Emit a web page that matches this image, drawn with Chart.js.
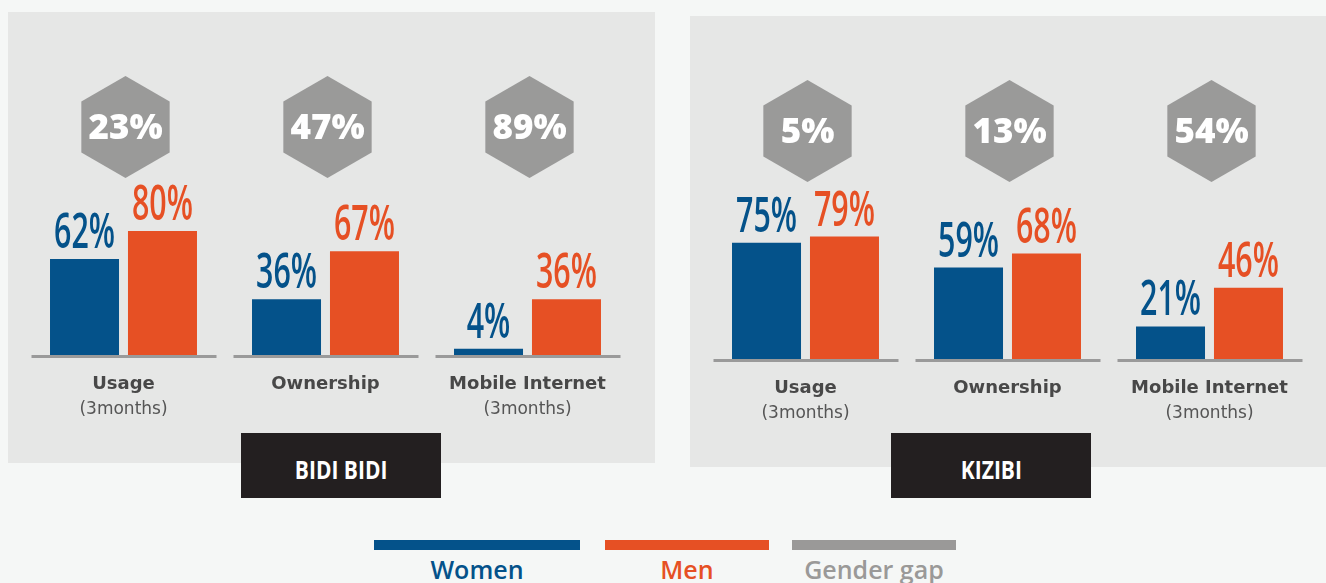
<!DOCTYPE html>
<html>
<head>
<meta charset="utf-8">
<script src="https://cdn.jsdelivr.net/npm/chart.js@4.4.1/dist/chart.umd.min.js"></script>
<style>
  html, body { margin: 0; padding: 0; }
  body { width: 1326px; height: 583px; background: #f5f7f6; position: relative; overflow: hidden; font-family: "Open Sans", sans-serif; }
  .panel { position: absolute; background: #e6e7e6; }
  .panel canvas { position: absolute; left: 0; top: 0; }
  .place { position: absolute; width: 200px; height: 65px; background: #231f20; color: #fff;
           display: flex; align-items: center; justify-content: center; box-sizing: border-box; padding-top: 6px;
           font: 700 25px "Open Sans", sans-serif; }
  .place span { display: inline-block; transform: scaleX(0.84); }
  .key { position: absolute; top: 540px; height: 10px; }
  .key-label { position: absolute; top: 553px; height: 33px; text-align: center; font: 600 25px "Open Sans", sans-serif; line-height: 33px; }
</style>
</head>
<body>
<div class="panel" style="left:8px; top:12px; width:647px; height:451px;"><canvas id="bidi" width="647" height="451"></canvas></div>
<div class="panel" style="left:690px; top:16px; width:636px; height:451px;"><canvas id="kizibi" width="636" height="451"></canvas></div>

<div class="place" style="left:241px; top:433px;"><span>BIDI BIDI</span></div>
<div class="place" style="left:891px; top:433px;"><span>KIZIBI</span></div>

<div class="key" style="left:374px; width:206px; background:#04528a;"></div>
<div class="key" style="left:605px; width:164px; background:#e65024;"></div>
<div class="key" style="left:792px; width:164px; background:#9a9998;"></div>
<div class="key-label" style="left:374px; width:206px; color:#04528a;">Women</div>
<div class="key-label" style="left:605px; width:164px; color:#e65024;">Men</div>
<div class="key-label" style="left:772px; width:204px; color:#9a9998;">Gender gap</div>

<script>
// categories
const CATEGORY_NAMES = ['Usage', 'Ownership', 'Mobile Internet'];
const CATEGORY_NOTES = ['(3months)', '', '(3months)'];

// Bidi Bidi
const BIDI_WOMEN = [62, 36, 4];
const BIDI_MEN = [80, 67, 36];
const BIDI_GAP = [23, 47, 89];

// Kizibi
const KIZIBI_WOMEN = [75, 59, 21];
const KIZIBI_MEN = [79, 68, 46];
const KIZIBI_GAP = [5, 13, 54];

const BLUE = '#04528a';
const ORANGE = '#e65024';
const GREY = '#9a9a99';

// baselines, hexagons with the gap, value labels, category names
function panelDecor(gaps) {
  return {
    id: 'panelDecor',
    beforeDatasetsDraw(chart) {
      const { ctx, scales } = chart;
      const y0 = scales.y.getPixelForValue(0) + 1.5;
      ctx.save();
      ctx.strokeStyle = '#9a9a9a';
      ctx.lineWidth = 3;
      CATEGORY_NAMES.forEach((_, i) => {
        const x = scales.x.getPixelForValue(i);
        ctx.beginPath();
        ctx.moveTo(x - 92, y0);
        ctx.lineTo(x + 93, y0);
        ctx.stroke();
      });
      ctx.restore();
    },
    afterDatasetsDraw(chart) {
      const { ctx, scales } = chart;
      const y0 = scales.y.getPixelForValue(0);

      // hexagons
      gaps.forEach((g, i) => {
        const cx = scales.x.getPixelForValue(i) + 2;
        const cy = 115;
        const r = 51;
        ctx.save();
        ctx.beginPath();
        for (let k = 0; k < 6; k++) {
          const a = (-90 + 60 * k) * Math.PI / 180;
          const px = cx + r * Math.cos(a);
          const py = cy + r * Math.sin(a);
          if (k === 0) ctx.moveTo(px, py); else ctx.lineTo(px, py);
        }
        ctx.closePath();
        ctx.fillStyle = GREY;
        ctx.fill();
        ctx.fillStyle = '#ffffff';
        ctx.font = '800 35px "Open Sans"';
        ctx.textAlign = 'center';
        ctx.textBaseline = 'middle';
        ctx.fillText(g + '%', cx, cy + 2);
        ctx.restore();
      });

      // value labels above bars
      chart.data.datasets.forEach((ds, d) => {
        const meta = chart.getDatasetMeta(d);
        meta.data.forEach((bar, i) => {
          ctx.save();
          ctx.translate(bar.x, bar.y - 11);
          ctx.scale(0.62, 1);
          ctx.font = '600 49px "Open Sans"';
          ctx.fillStyle = ds.backgroundColor;
          ctx.textAlign = 'center';
          ctx.textBaseline = 'alphabetic';
          ctx.fillText(ds.data[i] + '%', 0, 0);
          ctx.restore();
        });
      });

      // category names
      ctx.save();
      ctx.textAlign = 'center';
      ctx.textBaseline = 'alphabetic';
      CATEGORY_NAMES.forEach((name, i) => {
        const x = scales.x.getPixelForValue(i);
        ctx.font = 'bold 18px "DejaVu Sans"';
        ctx.fillStyle = '#484848';
        ctx.fillText(name, x, y0 + 34);
        if (CATEGORY_NOTES[i]) {
          ctx.font = '17px "DejaVu Sans"';
          ctx.fillStyle = '#555555';
          ctx.fillText(CATEGORY_NOTES[i], x, y0 + 59);
        }
      });
      ctx.restore();
    }
  };
}

function makePanel(id, women, men, gaps, rightPad) {
  return new Chart(document.getElementById(id), {
    type: 'bar',
    data: {
      labels: CATEGORY_NAMES,
      datasets: [
        { label: 'Women', data: women, backgroundColor: BLUE, categoryPercentage: 0.772, barPercentage: 0.885 },
        { label: 'Men', data: men, backgroundColor: ORANGE, categoryPercentage: 0.772, barPercentage: 0.885 },
      ],
    },
    options: {
      responsive: false,
      animation: false,
      devicePixelRatio: 1,
      layout: { padding: { left: 14.5, right: rightPad, top: 188, bottom: 108 } },
      plugins: {
        legend: { display: false },
        tooltip: { enabled: false },
      },
      scales: {
        x: { display: false },
        y: { display: false, min: 0, max: 100 },
      },
    },
    plugins: [panelDecor(gaps)],
  });
}

makePanel('bidi', BIDI_WOMEN, BIDI_MEN, BIDI_GAP, 26.5);
makePanel('kizibi', KIZIBI_WOMEN, KIZIBI_MEN, KIZIBI_GAP, 15.5);
</script>
</body>
</html>
